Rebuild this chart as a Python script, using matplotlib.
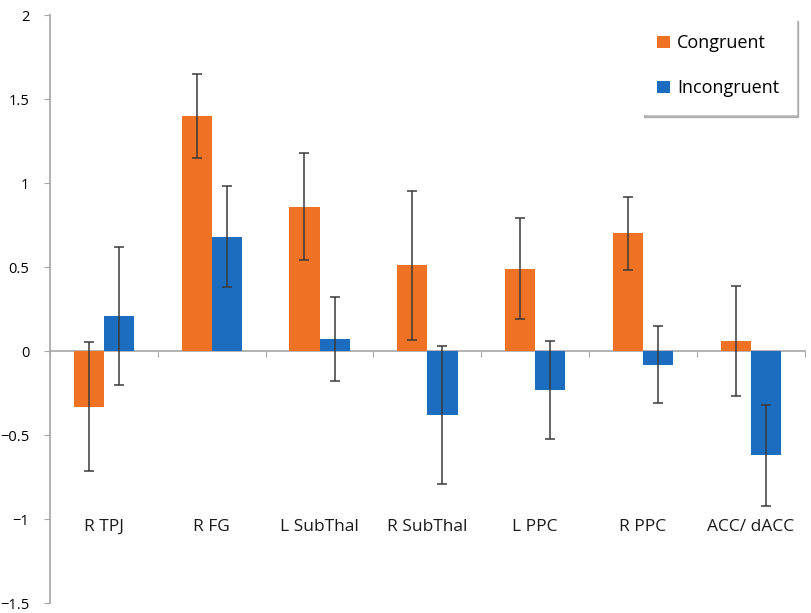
import matplotlib
matplotlib.use("Agg")
import matplotlib.pyplot as plt
import numpy as np

regions = ["R TPJ", "R FG", "L SubThal", "R SubThal", "L PPC", "R PPC", "ACC/ dACC"]
congruent = [-0.33, 1.40, 0.86, 0.51, 0.49, 0.70, 0.06]
congruent_err = [0.385, 0.25, 0.32, 0.445, 0.30, 0.22, 0.33]
incongruent = [0.21, 0.68, 0.07, -0.38, -0.23, -0.08, -0.62]
incongruent_err = [0.41, 0.30, 0.25, 0.41, 0.29, 0.23, 0.30]
yticks = [-1.5, -1, -0.5, 0, 0.5, 1, 1.5, 2]
ytick_labels = ["\u22121.5", "\u22121", "\u22120.5", "0", "0.5", "1", "1.5", "2"]

ORANGE = "#EF7123"
BLUE = "#1C6CBF"
GRAY = "#A6A6A6"

plt.rcParams["font.family"] = ["Open Sans", "DejaVu Sans"]

fig = plt.figure(figsize=(8.12, 6.13), dpi=100)
ax = fig.add_axes([0.0616, 0.016, 0.9294, 0.9595])

x = np.arange(len(regions))
w = 0.28
err_kw = dict(ecolor="#3a3a3a", elinewidth=1.1, capsize=3.5, capthick=1.1)
ax.bar(x - w / 2, congruent, w, yerr=congruent_err, color=ORANGE,
       label="Congruent", error_kw=err_kw, zorder=2)
ax.bar(x + w / 2, incongruent, w, yerr=incongruent_err, color=BLUE,
       label="Incongruent", error_kw=err_kw, zorder=2)

ax.set_xlim(-0.5, len(regions) - 0.5)
ax.set_ylim(-1.5, 2)
ax.set_yticks(yticks)
ax.set_yticklabels(ytick_labels)
ax.tick_params(axis="y", length=4, color=GRAY, labelsize=10.5, pad=11)

# category axis crosses at zero, tick marks between categories
ax.spines["bottom"].set_position(("data", 0))
ax.spines["bottom"].set_color(GRAY)
ax.spines["bottom"].set_linewidth(1.2)
ax.spines["bottom"].set_zorder(1)
ax.spines["left"].set_color(GRAY)
ax.spines["left"].set_linewidth(1.2)
for sp in ("top", "right"):
    ax.spines[sp].set_visible(False)
ax.set_xticks(np.arange(len(regions) + 1) - 0.5)
ax.set_xticklabels([])
ax.tick_params(axis="x", length=4, color=GRAY)

for xi, name in zip(x, regions):
    ax.text(xi, -1.045, name, ha="center", va="center", fontsize=12.5,
            color="#1a1a1a")

leg = ax.legend(loc="upper right", bbox_to_anchor=(1.0, 1.01), fontsize=13,
                shadow={"color": "#8c8c8c", "alpha": 0.6}, fancybox=False,
                labelspacing=1.5, handlelength=0.7, handleheight=0.7,
                handletextpad=0.4, borderpad=0.9, edgecolor="white")

fig.savefig("out.png", dpi=100)
